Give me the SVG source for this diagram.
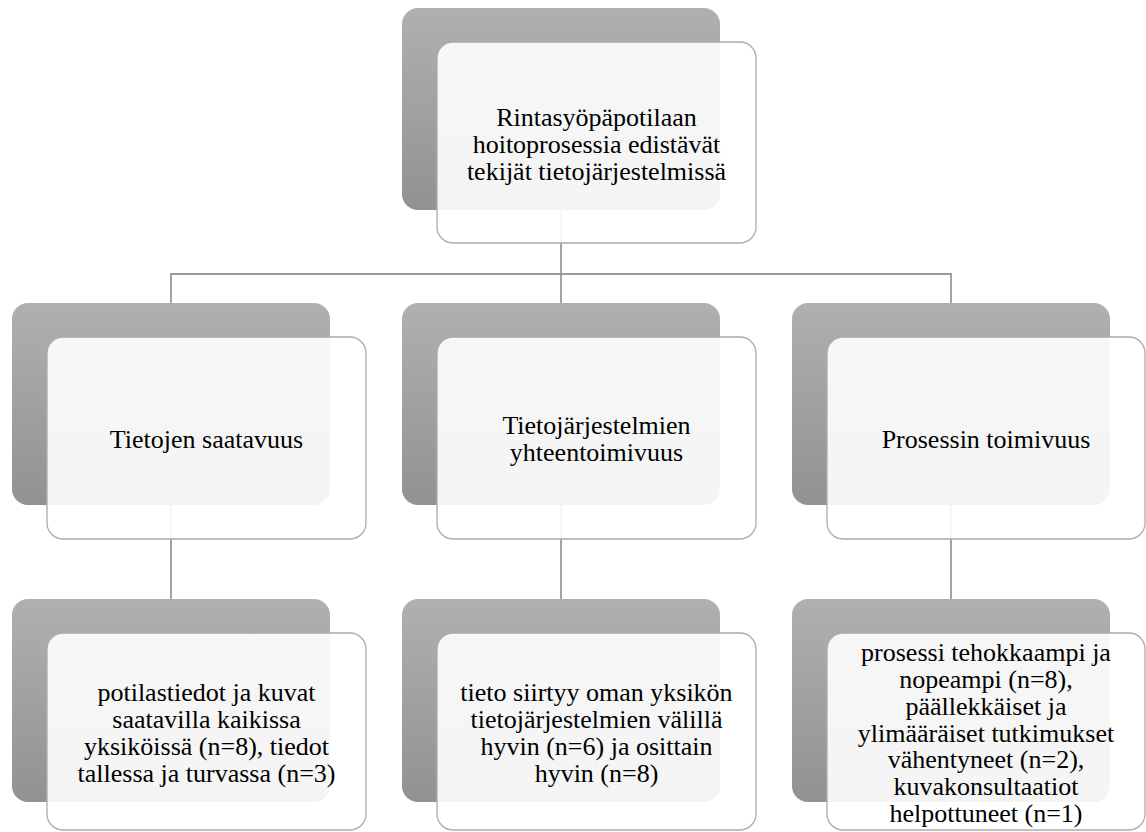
<svg xmlns="http://www.w3.org/2000/svg" width="1146" height="832" viewBox="0 0 1146 832">
<defs>
<linearGradient id="g" x1="0" y1="0" x2="0" y2="1">
<stop offset="0" stop-color="#b0b0b0"/>
<stop offset="1" stop-color="#929292"/>
</linearGradient>
<style>
.back{fill:url(#g);stroke:none}
.front{fill:#ffffff;fill-opacity:0.9;stroke:#ababab;stroke-width:1.3}
.conn{fill:none;stroke:#9a9a9a;stroke-width:1.8}
.t{font-family:'Liberation Serif','Times New Roman','DejaVu Serif',serif;font-size:26px;fill:#000;text-anchor:middle}
</style>
</defs>
<rect width="1146" height="832" fill="#ffffff"/>
<g id="connectors">
<path class="conn" d="M561 210 V274 M171 303 V274 H951 V303 M561 274 V303"/>
<path class="conn" d="M171 505 V599 M561 505 V599 M951 505 V599"/>
</g>
<g id="node-root">
<rect class="back" x="402" y="8" width="318" height="202" rx="16"/>
<rect class="front" x="437" y="42" width="319" height="201" rx="16"/>
<text class="t" font-family="Liberation Serif, serif" x="596.5" y="125.5">Rintasyöpäpotilaan</text>
<text class="t" font-family="Liberation Serif, serif" x="596.5" y="152.5">hoitoprosessia edistävät</text>
<text class="t" font-family="Liberation Serif, serif" x="596.5" y="179.5">tekijät tietojärjestelmissä</text>
</g>
<g id="node-saatavuus">
<rect class="back" x="12" y="303" width="318" height="202" rx="16"/>
<rect class="front" x="47" y="337" width="319" height="202" rx="16"/>
<text class="t" font-family="Liberation Serif, serif" x="206.5" y="447.5">Tietojen saatavuus</text>
</g>
<g id="node-yhteentoimivuus">
<rect class="back" x="402" y="303" width="318" height="202" rx="16"/>
<rect class="front" x="437" y="337" width="319" height="202" rx="16"/>
<text class="t" font-family="Liberation Serif, serif" x="596.5" y="434">Tietojärjestelmien</text>
<text class="t" font-family="Liberation Serif, serif" x="596.5" y="461">yhteentoimivuus</text>
</g>
<g id="node-toimivuus">
<rect class="back" x="792" y="303" width="318" height="202" rx="16"/>
<rect class="front" x="827" y="337" width="318" height="202" rx="16"/>
<text class="t" font-family="Liberation Serif, serif" x="986" y="447.5">Prosessin toimivuus</text>
</g>
<g id="node-saatavuus-detail">
<rect class="back" x="12" y="599" width="318" height="203" rx="16"/>
<rect class="front" x="47" y="633" width="319" height="197" rx="16"/>
<text class="t" font-family="Liberation Serif, serif" x="206.5" y="701">potilastiedot ja kuvat</text>
<text class="t" font-family="Liberation Serif, serif" x="206.5" y="728">saatavilla kaikissa</text>
<text class="t" font-family="Liberation Serif, serif" x="206.5" y="755">yksiköissä (n=8), tiedot</text>
<text class="t" font-family="Liberation Serif, serif" x="206.5" y="782">tallessa ja turvassa (n=3)</text>
</g>
<g id="node-yhteentoimivuus-detail">
<rect class="back" x="402" y="599" width="318" height="203" rx="16"/>
<rect class="front" x="437" y="633" width="319" height="197" rx="16"/>
<text class="t" font-family="Liberation Serif, serif" x="596.5" y="701">tieto siirtyy oman yksikön</text>
<text class="t" font-family="Liberation Serif, serif" x="596.5" y="728">tietojärjestelmien välillä</text>
<text class="t" font-family="Liberation Serif, serif" x="596.5" y="755">hyvin (n=6) ja osittain</text>
<text class="t" font-family="Liberation Serif, serif" x="596.5" y="782">hyvin (n=8)</text>
</g>
<g id="node-toimivuus-detail">
<rect class="back" x="792" y="599" width="318" height="203" rx="16"/>
<rect class="front" x="827" y="633" width="318" height="197" rx="16"/>
<text class="t" font-family="Liberation Serif, serif" x="986" y="661">prosessi tehokkaampi ja</text>
<text class="t" font-family="Liberation Serif, serif" x="986" y="688">nopeampi (n=8),</text>
<text class="t" font-family="Liberation Serif, serif" x="986" y="714.7">päällekkäiset ja</text>
<text class="t" font-family="Liberation Serif, serif" x="986" y="741.5">ylimääräiset tutkimukset</text>
<text class="t" font-family="Liberation Serif, serif" x="986" y="768.3">vähentyneet (n=2),</text>
<text class="t" font-family="Liberation Serif, serif" x="986" y="795">kuvakonsultaatiot</text>
<text class="t" font-family="Liberation Serif, serif" x="986" y="822">helpottuneet (n=1)</text>
</g>
</svg>
